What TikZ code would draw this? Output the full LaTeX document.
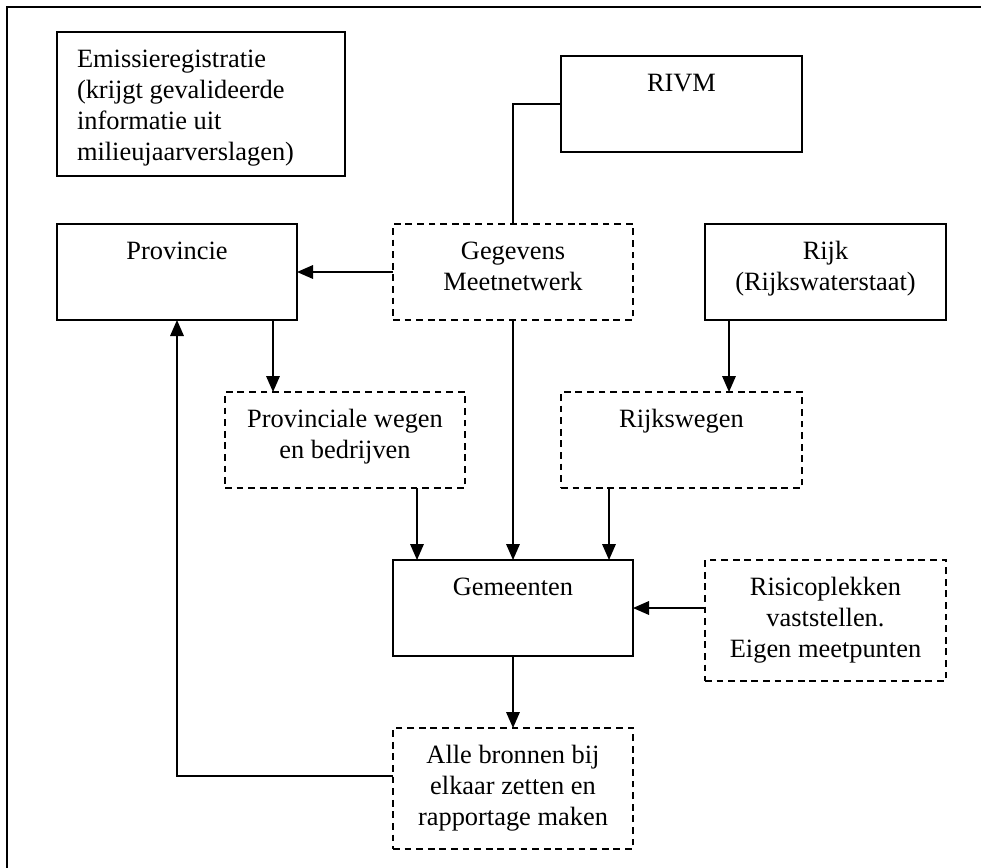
\documentclass[tikz,border=0pt]{standalone}
\usepackage{fontspec}
\setmainfont{Liberation Serif}
\usetikzlibrary{arrows.meta}
\tikzset{
  box/.style={draw, line width=0.7pt, inner sep=0pt, outer sep=0pt, anchor=north west},
  dbox/.style={box, dash pattern=on 3.4pt off 2.4pt},
  txt/.style={anchor=north, inner sep=0pt, outer sep=0pt, align=center, font=\fontsize{13.2}{15.5}\selectfont},
  arr/.style={line width=0.7pt, -{Triangle[length=8pt,width=6.8pt]}},
  ln/.style={line width=0.7pt}
}
\begin{document}
\begin{tikzpicture}[x=0.5pt,y=-0.5pt]
\useasboundingbox (0,0) rectangle (981,868);
% outer frame (cropped at right and bottom)
\coordinate (fb) at (7,868);
\coordinate (ftl) at (7,7);
\coordinate (fr) at (981,7);
\draw[line width=0.7pt] (fb) -- (ftl) -- (fr);

% boxes
\node[box, minimum width=144pt, minimum height=72pt] (emis) at (57,32) {};
\node[box, minimum width=120.5pt, minimum height=48pt] (rivm) at (561,56) {};
\node[box, minimum width=120pt, minimum height=48pt] (prov) at (57,224) {};
\node[dbox, minimum width=120pt, minimum height=48pt] (geg) at (393,224) {};
\node[box, minimum width=120.5pt, minimum height=48pt] (rijk) at (705,224) {};
\node[dbox, minimum width=120pt, minimum height=48pt] (pw) at (225,392) {};
\node[dbox, minimum width=120.5pt, minimum height=48pt] (rw) at (561,392) {};
\node[box, minimum width=120pt, minimum height=48pt] (gem) at (393,560) {};
\node[dbox, minimum width=120.5pt, minimum height=60.5pt] (risk) at (705,560) {};
\node[dbox, minimum width=120pt, minimum height=60.5pt] (alle) at (393,728) {};

% texts
\node[txt, anchor=north west, align=left] (emisT) at ([xshift=10pt,yshift=-6.65pt]emis.north west) {\strut Emissieregistratie\\(krijgt gevalideerde\\informatie uit\\milieujaarverslagen)};
\node[txt] (rivmT) at ([yshift=-6.65pt]rivm.north) {\strut RIVM};
\node[txt] (provT) at ([yshift=-6.65pt]prov.north) {\strut Provincie};
\node[txt] (gegT) at ([yshift=-6.65pt]geg.north) {\strut Gegevens\\Meetnetwerk};
\node[txt] (rijkT) at ([yshift=-6.65pt]rijk.north) {\strut Rijk\\(Rijkswaterstaat)};
\node[txt] (pwT) at ([yshift=-6.65pt]pw.north) {\strut Provinciale wegen\\en bedrijven};
\node[txt] (rwT) at ([yshift=-6.65pt]rw.north) {\strut Rijkswegen};
\node[txt] (gemT) at ([yshift=-6.65pt]gem.north) {\strut Gemeenten};
\node[txt] (riskT) at ([yshift=-6.65pt]risk.north) {\strut Risicoplekken\\vaststellen.\\Eigen meetpunten};
\node[txt] (alleT) at ([yshift=-6.65pt]alle.north) {\strut Alle bronnen bij\\elkaar zetten en\\rapportage maken};

% connectors
\draw[ln] (rivm.west) -| (geg.north);
\draw[arr] (geg.west) -- (prov.east);
\coordinate (p1) at ([xshift=-12pt]prov.south east);
\draw[arr] (p1) -- (p1 |- pw.north);
\draw[arr] (geg.south) -- (gem.north);
\coordinate (p2) at ([xshift=-24pt]pw.south east);
\draw[arr] (p2) -- (p2 |- gem.north);
\coordinate (p3) at ([xshift=12pt]rijk.south west);
\draw[arr] (p3) -- (p3 |- rw.north);
\coordinate (p4) at ([xshift=24pt]rw.south west);
\draw[arr] (p4) -- (p4 |- gem.north);
\draw[arr] (gem.east -| risk.west) -- (gem.east);
\draw[arr] (gem.south) -- (alle.north);
\coordinate (p5) at ([yshift=6.25pt]alle.west);
\draw[arr] (p5) -| (prov.south);
\end{tikzpicture}
\end{document}
